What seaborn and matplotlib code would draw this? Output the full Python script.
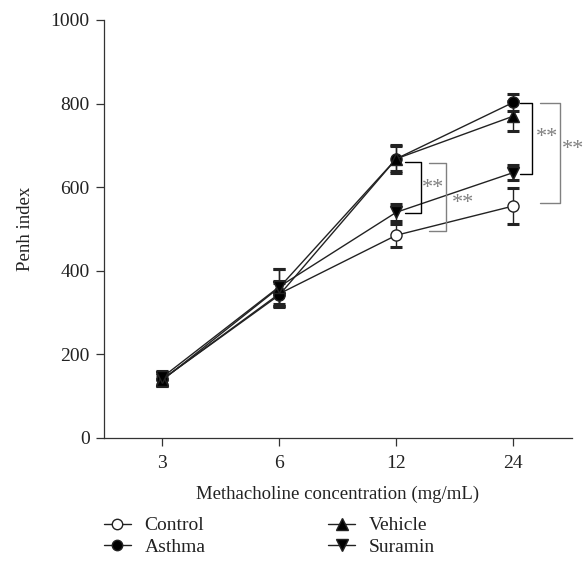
import matplotlib
matplotlib.use("Agg")
import matplotlib.pyplot as plt
import seaborn as sns
import pandas as pd
from matplotlib.lines import Line2D

# ── data ──────────────────────────────────────────────────────────────────────
concentrations = ["3", "6", "12", "24"]
groups = ["Control", "Asthma", "Vehicle", "Suramin"]

control_mean = [140, 345, 485, 555]
control_err = [15, 30, 28, 42]
asthma_mean = [140, 342, 668, 803]
asthma_err = [15, 28, 33, 20]
vehicle_mean = [138, 360, 668, 770]
vehicle_err = [12, 45, 30, 35]
suramin_mean = [145, 362, 540, 635]
suramin_err = [15, 42, 20, 18]

# brackets: (x_left, x_right, y_top, y_bottom, colour), stars at (x, y)
brackets = [
    (2.07, 2.21, 660, 538, "black"),
    (2.28, 2.42, 658, 495, "#808080"),
    (3.06, 3.16, 802, 632, "black"),
    (3.23, 3.40, 802, 562, "#808080"),
]
star_pos = [(2.31, 597), (2.57, 562), (3.29, 719), (3.51, 691)]

# ── styling ───────────────────────────────────────────────────────────────────
sns.set_theme(style="ticks")
plt.rcParams["font.family"] = ["Liberation Serif", "DejaVu Serif"]

means = [control_mean, asthma_mean, vehicle_mean, suramin_mean]
errs = [control_err, asthma_err, vehicle_err, suramin_err]
markers = {"Control": "o", "Asthma": "o", "Vehicle": "^", "Suramin": "v"}
faces = {"Control": "white", "Asthma": "black", "Vehicle": "black", "Suramin": "black"}

rows = []
for g, m, e in zip(groups, means, errs):
    for i, c in enumerate(concentrations):
        rows.append({"group": g, "x": i, "conc": c, "penh": m[i], "err": e[i]})
df = pd.DataFrame(rows)

fig = plt.figure(figsize=(5.86, 5.71), dpi=100)
ax = fig.add_axes([0.177, 0.233, 0.799, 0.732])

for g in groups:
    sub = df[df["group"] == g]
    ax.errorbar(sub["x"], sub["penh"], yerr=sub["err"], fmt="none",
                ecolor="#222222", elinewidth=1.0, capsize=4, capthick=2.2, zorder=2)
    sns.lineplot(data=sub, x="x", y="penh", ax=ax, color="#222222", linewidth=1.0,
                 marker=markers[g], markersize=8 if markers[g] == "o" else 8.5,
                 markerfacecolor=faces[g], markeredgecolor="#222222",
                 markeredgewidth=1.0, zorder=3, legend=False)

for xl, xr, yt, yb, col in brackets:
    ax.plot([xl, xr, xr, xl], [yt, yt, yb, yb], color=col, linewidth=1.0,
            clip_on=False, zorder=4)
for sx, sy in star_pos:
    ax.text(sx, sy, "**", color="#808080", fontsize=16, ha="center",
            va="center", clip_on=False)

ax.set_xlim(-0.5, 3.5)
ax.set_ylim(0, 1000)
ax.set_xticks(range(len(concentrations)))
ax.set_xticklabels(concentrations)
ax.set_yticks([0, 200, 400, 600, 800, 1000])
ax.tick_params(axis="both", labelsize=14, length=6, width=0.9, color="#333333",
               labelcolor="#222222", pad=4)
ax.tick_params(axis="x", pad=6)
for s in ["left", "bottom"]:
    ax.spines[s].set_color("#333333")
    ax.spines[s].set_linewidth(0.9)
sns.despine(ax=ax)

ax.set_xlabel("Methacholine concentration (mg/mL)", fontsize=13.5, color="#222222",
              labelpad=10)
ax.set_ylabel("Penh index", fontsize=13.5, color="#222222", labelpad=12)

handles = [Line2D([0], [0], color="#222222", linewidth=1.0, marker=markers[g],
                  markersize=7.5 if markers[g] == "o" else 8,
                  markerfacecolor=faces[g], markeredgecolor="#222222")
           for g in ["Control", "Asthma", "Vehicle", "Suramin"]]
fig.legend(handles, ["Control", "Asthma", "Vehicle", "Suramin"], ncol=2,
           loc="upper left", bbox_to_anchor=(0.177, 0.095), frameon=False,
           borderpad=0, borderaxespad=0,
           fontsize=14, handlelength=1.4, handletextpad=0.7,
           columnspacing=6.3, labelspacing=0.2, labelcolor="#222222")

fig.savefig("out.png", dpi=100)
